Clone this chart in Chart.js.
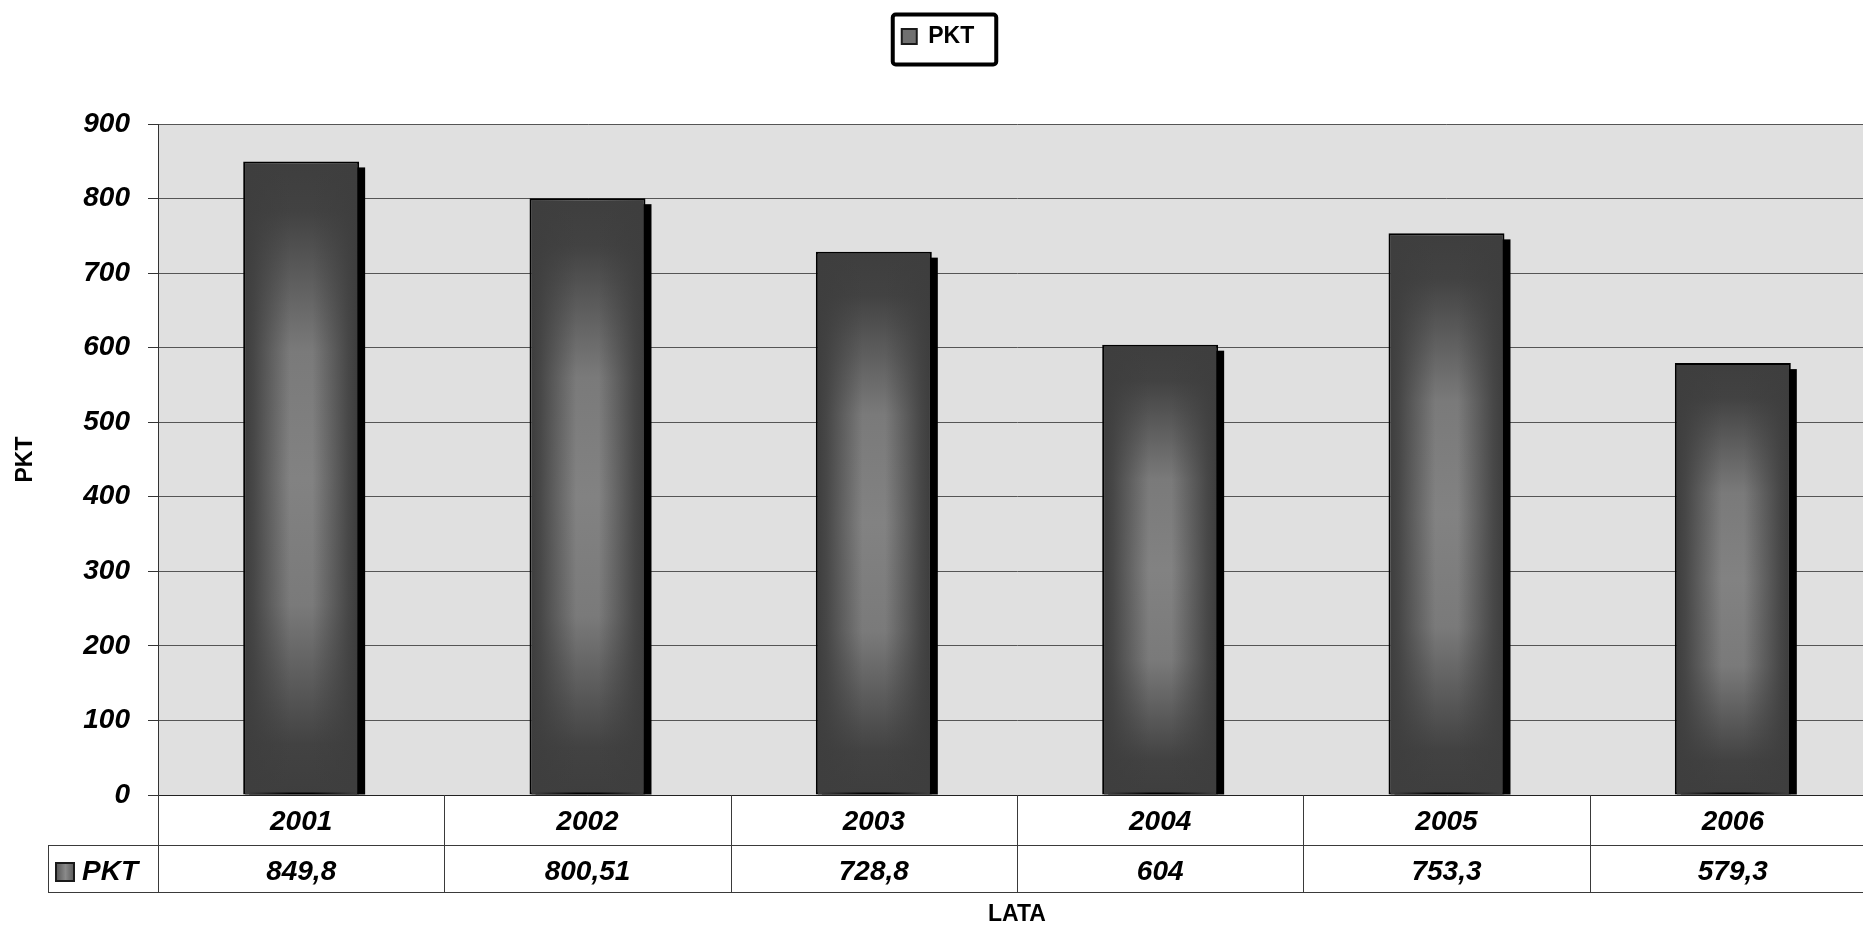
<!DOCTYPE html>
<html lang="pl">
<head>
<meta charset="utf-8">
<title>PKT</title>
<script src="https://cdn.jsdelivr.net/npm/chart.js@4/dist/chart.umd.min.js"></script>
<style>
    html, body {
        margin: 0;
        padding: 0;
        background: #ffffff;
        overflow: hidden;
    }
</style>
</head>
<body>
<canvas id="chart" width="1880" height="925"></canvas>
<script>
// dane
const years = ["2001", "2002", "2003", "2004", "2005", "2006"];
const pktValues = [849.8, 800.51, 728.8, 604, 753.3, 579.3];
const seriesName = "PKT";
const yMin = 0;
const yMax = 900;
const yStep = 100;

const fontFamily = "Arial, 'Liberation Sans', sans-serif";

function formatValue(v) {
    return String(v).replace(".", ",");
}

// gradient słupka (ciemna góra i dół, jaśniejszy środek)
function barFill(context) {
    let chart = context.chart;
    if (!chart.chartArea || context.dataIndex === undefined) {
        return "#555555";
    }
    let yScale = chart.scales.y;
    let top = yScale.getPixelForValue(pktValues[context.dataIndex]);
    let bottom = yScale.getPixelForValue(0);
    let g = chart.ctx.createLinearGradient(0, top, 0, bottom);
    g.addColorStop(0, "#3e3e3e");
    g.addColorStop(0.08, "#424242");
    g.addColorStop(0.3, "#7a7a7a");
    g.addColorStop(0.5, "#828282");
    g.addColorStop(0.7, "#7a7a7a");
    g.addColorStop(0.92, "#424242");
    g.addColorStop(1, "#3e3e3e");
    return g;
}

// tło obszaru wykresu
const plotBackground = {
    id: "plotBackground",
    beforeDraw(chart) {
        let { ctx, chartArea } = chart;
        ctx.save();
        ctx.fillStyle = "#e0e0e0";
        ctx.fillRect(
            chartArea.left,
            chartArea.top,
            chartArea.right - chartArea.left,
            chartArea.bottom - chartArea.top
        );
        ctx.restore();
    },
};

// cień słupków i boczne zaciemnienie
const barShade = {
    id: "barShade",
    beforeDatasetsDraw(chart) {
        let ctx = chart.ctx;
        let meta = chart.getDatasetMeta(0);
        ctx.save();
        ctx.fillStyle = "#000000";
        for (let bar of meta.data) {
            let left = bar.x - bar.width / 2;
            ctx.fillRect(left + 6, bar.y + 6, bar.width, bar.base - bar.y - 6);
        }
        ctx.restore();
    },
    afterDatasetsDraw(chart) {
        let ctx = chart.ctx;
        let meta = chart.getDatasetMeta(0);
        ctx.save();
        for (let bar of meta.data) {
            let left = bar.x - bar.width / 2 + 2;
            let right = bar.x + bar.width / 2 - 2;
            let g = ctx.createLinearGradient(left, 0, right, 0);
            g.addColorStop(0, "rgba(62,62,62,1)");
            g.addColorStop(0.08, "rgba(62,62,62,0.85)");
            g.addColorStop(0.4, "rgba(62,62,62,0)");
            g.addColorStop(0.6, "rgba(62,62,62,0)");
            g.addColorStop(0.92, "rgba(62,62,62,0.85)");
            g.addColorStop(1, "rgba(62,62,62,1)");
            ctx.fillStyle = g;
            ctx.fillRect(left, bar.y + 2, right - left, bar.base - bar.y - 2);
        }
        ctx.restore();
    },
};

// ramka legendy
const legendFrame = {
    id: "legendFrame",
    beforeInit(chart) {
        const originalFit = chart.legend.fit;
        chart.legend.fit = function () {
            originalFit.bind(chart.legend)();
            this.height = 124;
        };
    },
    afterDraw(chart) {
        let box = chart.legend.legendHitBoxes[0];
        if (!box) return;
        let ctx = chart.ctx;
        let x0 = box.left - 9;
        let y0 = box.top - 10.5;
        let x1 = box.left + box.width + 22;
        let y1 = box.top + box.height + 16.5;
        ctx.save();
        ctx.strokeStyle = "#000000";
        ctx.lineWidth = 4;
        ctx.beginPath();
        ctx.roundRect(x0, y0, x1 - x0, y1 - y0, 3);
        ctx.stroke();
        ctx.restore();
    },
};

// tabela danych pod osią X
const dataTable = {
    id: "dataTable",
    afterDraw(chart) {
        let { ctx, chartArea } = chart;
        let xScale = chart.scales.x;
        let half = (xScale.getPixelForValue(1) - xScale.getPixelForValue(0)) / 2;
        let rowTop = chartArea.bottom;
        let rowMid = rowTop + 50;
        let rowEnd = rowTop + 97;
        let keyLeft = 48;
        let tableRight = xScale.getPixelForValue(years.length - 1) + half;

        ctx.save();
        ctx.strokeStyle = "#3a3a3a";
        ctx.lineWidth = 1;
        ctx.beginPath();
        ctx.moveTo(keyLeft, rowMid + 0.5);
        ctx.lineTo(tableRight, rowMid + 0.5);
        ctx.moveTo(keyLeft, rowEnd + 0.5);
        ctx.lineTo(tableRight, rowEnd + 0.5);
        ctx.moveTo(keyLeft + 0.5, rowMid);
        ctx.lineTo(keyLeft + 0.5, rowEnd);
        for (let i = 0; i <= years.length; i++) {
            let bx = Math.round(xScale.getPixelForValue(i) - half) + 0.5;
            ctx.moveTo(bx, rowTop);
            ctx.lineTo(bx, rowEnd);
        }
        ctx.stroke();

        ctx.fillStyle = "#000000";
        ctx.font = "italic bold 28px " + fontFamily;
        ctx.textAlign = "center";
        ctx.textBaseline = "middle";
        for (let i = 0; i < years.length; i++) {
            let cx = xScale.getPixelForValue(i);
            ctx.fillText(years[i], cx, rowTop + 27);
            ctx.fillText(formatValue(pktValues[i]), cx, rowMid + 27);
        }

        // klucz serii
        let g = ctx.createLinearGradient(56, 0, 75, 0);
        g.addColorStop(0, "#555555");
        g.addColorStop(0.5, "#8a8a8a");
        g.addColorStop(1, "#555555");
        ctx.fillStyle = g;
        ctx.fillRect(56, rowMid + 18, 18, 18);
        ctx.strokeStyle = "#1a1a1a";
        ctx.lineWidth = 2;
        ctx.strokeRect(56, rowMid + 18, 18, 18);
        ctx.fillStyle = "#000000";
        ctx.textAlign = "left";
        ctx.fillText(seriesName, 82, rowMid + 27);
        ctx.restore();
    },
};

const chartCanvas = document.querySelector("#chart");

let pktChart = new Chart(chartCanvas, {
    type: "bar",
    data: {
        labels: years,
        datasets: [
            {
                label: seriesName,
                data: pktValues,
                backgroundColor: barFill,
                borderColor: "#000000",
                borderWidth: 2,
                borderSkipped: false,
                categoryPercentage: 1,
                barPercentage: 0.405,
            },
        ],
    },
    options: {
        responsive: false,
        animation: false,
        devicePixelRatio: 1,
        layout: {
            padding: { left: 0, right: 4, top: 0, bottom: 0 },
        },
        plugins: {
            legend: {
                display: true,
                position: "top",
                labels: {
                    boxWidth: 15,
                    boxHeight: 15,
                    padding: 25,
                    color: "#000000",
                    font: { family: fontFamily, size: 23, weight: "bold" },
                    generateLabels: function () {
                        return [
                            {
                                text: seriesName,
                                fillStyle: "#707070",
                                strokeStyle: "#1a1a1a",
                                lineWidth: 2,
                                hidden: false,
                                datasetIndex: 0,
                            },
                        ];
                    },
                },
            },
            tooltip: { enabled: false },
        },
        scales: {
            x: {
                ticks: { display: false },
                grid: { display: false },
                border: { display: true, color: "#222222", width: 1 },
                title: {
                    display: true,
                    text: "LATA",
                    color: "#000000",
                    font: { family: fontFamily, size: 23, weight: "bold" },
                    padding: { top: 0, bottom: -3 },
                },
                afterFit: function (scale) {
                    scale.height = 130;
                },
            },
            y: {
                min: yMin,
                max: yMax,
                ticks: {
                    stepSize: yStep,
                    padding: 18,
                    color: "#000000",
                    font: {
                        family: fontFamily,
                        size: 28,
                        weight: "bold",
                        style: "italic",
                    },
                },
                grid: {
                    color: "#555555",
                    lineWidth: 1,
                    tickLength: 10,
                    tickColor: "#333333",
                },
                border: { display: true, color: "#333333", width: 1 },
                title: {
                    display: true,
                    text: "PKT",
                    color: "#000000",
                    font: { family: fontFamily, size: 23, weight: "bold" },
                    padding: { top: 12, bottom: 0 },
                },
                afterFit: function (scale) {
                    scale.width = 158;
                },
            },
        },
    },
    plugins: [plotBackground, barShade, legendFrame, dataTable],
});
</script>
</body>
</html>
